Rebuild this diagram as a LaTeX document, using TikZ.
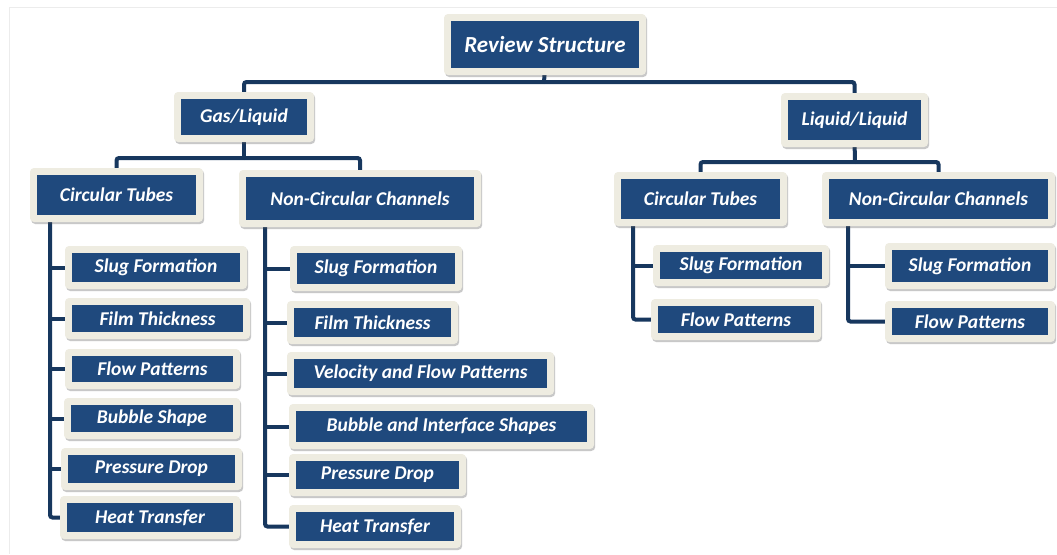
\documentclass[tikz,border=0pt]{standalone}
\usepackage{fontspec}
\setmainfont{Carlito}
\usetikzlibrary{shadows}
\definecolor{boxblue}{HTML}{1F497D}
\definecolor{framecol}{HTML}{EEECE1}
\definecolor{linecol}{HTML}{17375E}
\pgfdeclarelayer{background}
\pgfsetlayers{background,main}
\tikzset{
  boxtxt/.style={fill=boxblue, text=white, inner sep=0pt, font=\fontsize{19.5}{22}\selectfont\bfseries\itshape},
  frame/.style={fill=framecol, rounded corners=4pt, drop shadow={shadow xshift=1.2pt, shadow yshift=-2pt, opacity=0.3, fill=black!70}},
  conn/.style={draw=linecol, line width=4pt, rounded corners=2.5pt},
  edge/.style={draw=gray!15, line width=0.8pt}
}
% #1 extra style, #2 name, #3 x1, #4 y1, #5 x2, #6 y2 (inner rectangle), #7 text
\newcommand\bx[7][]{%
  \fill[frame] ({#3-7},{#4-7}) rectangle ({#5+7},{#6+7});
  \node[boxtxt,#1, minimum width={(#5-#3)*1pt}, minimum height={(#6-#4)*1pt}] (#2) at ({(#3+#5)/2},{(#4+#6)/2}) {#7};
}
\begin{document}
\begin{tikzpicture}[x=1pt,y=-1pt]
\useasboundingbox (0,0) rectangle (1057,554);

\bx[font=\fontsize{23}{26}\selectfont\bfseries\itshape]{rev}{451}{21}{639}{68}{Review Structure}
\bx{gl}{181}{99}{307}{135}{Gas/Liquid}
\bx{ll}{788}{100}{921}{140}{Liquid/Liquid}
\bx{ctA}{37}{175}{196}{215}{Circular Tubes}
\bx{ncA}{246}{177}{474}{220}{Non-Circular Channels}
\bx{ctB}{621}{179}{780}{219}{Circular Tubes}
\bx{ncB}{829}{179}{1048}{219}{Non-Circular Channels}

\bx{sfA}{72}{253}{240}{282}{Slug Formation}
\bx{ftA}{72}{305}{243}{332}{Film Thickness}
\bx{fpA}{72}{356}{233}{382}{Flow Patterns}
\bx{bsA}{71}{405}{233}{432}{Bubble Shape}
\bx{pdA}{68}{455}{235}{483}{Pressure Drop}
\bx{htA}{67}{503}{233}{532}{Heat Transfer}

\bx{sfB}{297}{253}{455}{284}{Slug Formation}
\bx{ftB}{294}{308}{451}{337}{Film Thickness}
\bx{vfB}{294}{359}{547}{388}{Velocity and Flow Patterns}
\bx{biB}{296}{411}{587}{442}{Bubble and Interface Shapes}
\bx{pdB}{296}{461}{459}{489}{Pressure Drop}
\bx{htB}{296}{512}{454}{541}{Heat Transfer}

\bx{sfC}{660}{252}{822}{279}{Slug Formation}
\bx{fpC}{658}{306}{814}{333}{Flow Patterns}

\bx{sfD}{892}{250}{1048}{282}{Slug Formation}
\bx{fpD}{892}{308}{1048}{335}{Flow Patterns}

\coordinate (j0) at (544,82);
\coordinate (j1) at (244,158);
\coordinate (j2) at (855,162);
\coordinate (tA) at (50,0);
\coordinate (tB) at (265,0);
\coordinate (tC) at (633,0);
\coordinate (tD) at (848,0);

\begin{pgfonlayer}{background}
\fill[white] (0,0) rectangle (1057,554);
\draw[edge] (9,7) -- (1057,7);
\draw[edge] (9,7) -- (9,554);
\draw[conn] (rev.south) -- (j0);
\draw[conn] (j0) -| (gl.north);
\draw[conn] (j0) -| (ll.north);
\draw[conn] (gl.south) -- (j1);
\draw[conn] (j1) -| (ctA.north);
\draw[conn] (j1) -| (ncA.north);
\draw[conn] (ll.south) -- (j2);
\draw[conn] (j2) -| (ctB.north);
\draw[conn] (j2) -| (ncB.north);

\draw[conn] (ctA.south -| tA) |- (htA.west);
\foreach \n in {sfA,ftA,fpA,bsA,pdA} \draw[conn] (tA |- \n.west) -- (\n.west);
\draw[conn] (ncA.south -| tB) |- (htB.west);
\foreach \n in {sfB,ftB,vfB,biB,pdB} \draw[conn] (tB |- \n.west) -- (\n.west);
\draw[conn] (ctB.south -| tC) |- (fpC.west);
\draw[conn] (tC |- sfC.west) -- (sfC.west);
\draw[conn] (ncB.south -| tD) |- (fpD.west);
\draw[conn] (tD |- sfD.west) -- (sfD.west);
\end{pgfonlayer}
\end{tikzpicture}
\end{document}
